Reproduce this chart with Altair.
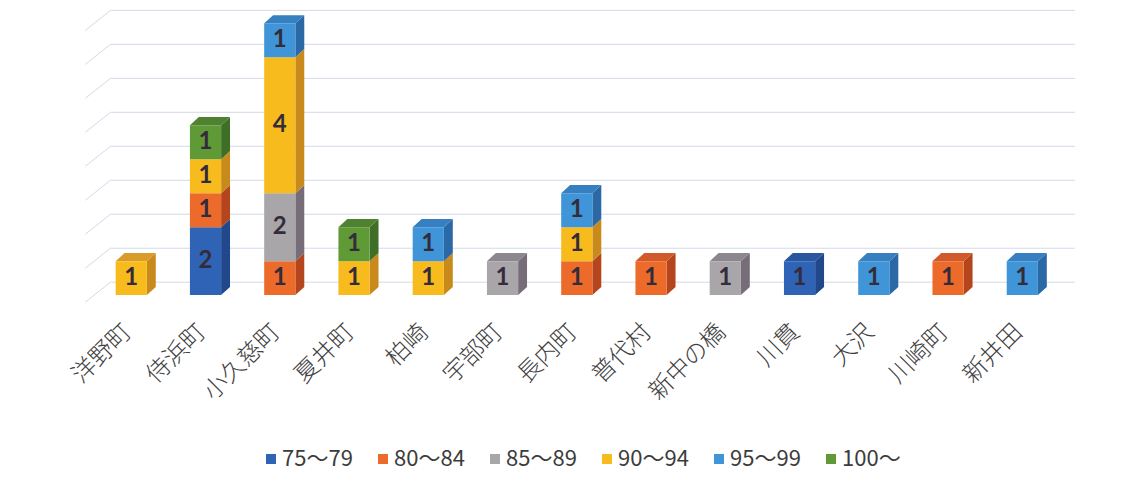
import json
import altair as alt
import pandas as pd

# ---- data ----
categories = ['洋野町', '侍浜町', '小久慈町', '夏井町', '柏崎', '宇部町', '長内町',
              '普代村', '新中の橋', '川貫', '大沢', '川崎町', '新井田']
series = ['75～79', '80～84', '85～89', '90～94', '95～99', '100～']
s75_79 = [0, 2, 0, 0, 0, 0, 0, 0, 0, 1, 0, 0, 0]
s80_84 = [0, 1, 1, 0, 0, 0, 1, 1, 0, 0, 0, 1, 0]
s85_89 = [0, 0, 2, 0, 0, 1, 0, 0, 1, 0, 0, 0, 0]
s90_94 = [1, 1, 4, 1, 1, 0, 1, 0, 0, 0, 0, 0, 0]
s95_99 = [0, 0, 1, 0, 1, 0, 1, 0, 0, 0, 1, 0, 1]
s100 = [0, 1, 0, 1, 0, 0, 0, 0, 0, 0, 0, 0, 0]
values = [s75_79, s80_84, s85_89, s90_94, s95_99, s100]
grid_levels = list(range(0, 9))

# ---- style ----
front_colors = ['#2f63b5', '#ec6b2a', '#a9a6aa', '#f8bb1e', '#3f95d7', '#5f9a37']
side_colors = ['#21488a', '#b5451d', '#776d79', '#c98a1c', '#2a68a6', '#3f6e27']
top_colors = ['#2a56a0', '#d2592a', '#8c8690', '#d99c2a', '#367fc0', '#4e8231']
BW = 0.42   # bar face width (x units)
DX = 0.12   # depth in x units
DY = 0.24   # depth in y units

# ---- build tables ----
front, side, top = [], [], []
seg = 0
for i, cat in enumerate(categories):
    base = 0
    last = None
    for s, name in enumerate(series):
        v = values[s][i]
        if v <= 0:
            continue
        y0, y1 = base, base + v
        front.append(dict(xl=i - BW / 2, xr=i + BW / 2, xc=i, y=y0, y2=y1,
                          ym=(y0 + y1) / 2, v=v, series=name))
        side.append(dict(x=i + BW / 2, y=y0, y2=y1, seg=seg, series=name))
        side.append(dict(x=i + BW / 2 + DX, y=y0 + DY, y2=y1 + DY, seg=seg, series=name))
        base = y1
        last = name
        seg += 1
    if last is not None:
        t = base
        for xx, a, b in [(i - BW / 2, t, t), (i - BW / 2 + DX, t, t + DY),
                         (i + BW / 2, t, t + DY), (i + BW / 2 + DX, t + DY, t + DY)]:
            top.append(dict(x=xx, y=a, y2=b, seg=i, series=last))

df_front = pd.DataFrame(front)
df_side = pd.DataFrame(side)
df_top = pd.DataFrame(top)
df_grid = pd.DataFrame(dict(level=grid_levels))

xs = alt.Scale(domain=[-0.65, 12.75], nice=False, zero=False)
ys = alt.Scale(domain=[-0.35, 8.45], nice=False, zero=False)

xaxis = alt.Axis(values=list(range(len(categories))),
                 labelExpr=json.dumps(categories, ensure_ascii=False) + '[datum.value]',
                 labelAngle=-45, labelAlign='right', labelBaseline='middle',
                 labelFont='Noto Sans CJK JP', labelFontSize=24, labelFontWeight=300,
                 labelColor='#404040',
                 labelPadding=21, labelOffset=-4, ticks=False, tickSize=0,
                 domain=False, grid=False, title=None, labelOverlap=False)

# grid on back wall
grid_h = alt.Chart(df_grid).transform_calculate(
    gy='datum.level + 0.38', gx1='-0.28', gx2='12.71'
).mark_rule(color='#d3d9e8', strokeWidth=1).encode(
    x=alt.X('gx1:Q', scale=xs, axis=xaxis),
    x2='gx2:Q',
    y=alt.Y('gy:Q', scale=ys, axis=None),
)
grid_d = alt.Chart(df_grid).transform_calculate(
    fy='datum.level - 0.21', by='datum.level + 0.38', fx='-0.62', bx='-0.28'
).mark_rule(color='#d3d9e8', strokeWidth=1).encode(
    x=alt.X('fx:Q', scale=xs, axis=xaxis),
    x2='bx:Q',
    y=alt.Y('fy:Q', scale=ys, axis=None),
    y2='by:Q',
)

side_l = alt.Chart(df_side).mark_area(opacity=1).encode(
    x=alt.X('x:Q', scale=xs, axis=xaxis),
    y=alt.Y('y:Q', scale=ys, axis=None, stack=None),
    y2='y2:Q',
    detail='seg:N',
    color=alt.Color('series:N', scale=alt.Scale(domain=series, range=side_colors), legend=None),
)
top_l = alt.Chart(df_top).mark_area(opacity=1).encode(
    x=alt.X('x:Q', scale=xs, axis=xaxis),
    y=alt.Y('y:Q', scale=ys, axis=None, stack=None),
    y2='y2:Q',
    detail='seg:N',
    color=alt.Color('series:N', scale=alt.Scale(domain=series, range=top_colors), legend=None),
)
front_l = alt.Chart(df_front).mark_rect().encode(
    x=alt.X('xl:Q', scale=xs, axis=xaxis),
    x2='xr:Q',
    y=alt.Y('y:Q', scale=ys, axis=None),
    y2='y2:Q',
    color=alt.Color('series:N', scale=alt.Scale(domain=series, range=front_colors),
                    sort=series,
                    legend=alt.Legend(title=None, orient='none', legendX=177, legendY=440,
                                      direction='horizontal', symbolType='square',
                                      symbolSize=100, symbolStrokeWidth=0,
                                      labelFont='Noto Sans CJK JP', labelFontSize=22,
                                      labelColor='#3c3c3c', labelOffset=0,
                                      columnPadding=19, gridAlign='all', padding=0)),
)
text_l = alt.Chart(df_front).mark_text(font='Lato', fontWeight='bold', fontSize=24,
                                       color='#342c3a', baseline='middle').encode(
    x=alt.X('xc:Q', scale=xs, axis=xaxis),
    y=alt.Y('ym:Q', scale=ys, axis=None),
    text='v:Q',
)

chart = alt.layer(grid_h, grid_d, side_l, top_l, front_l, text_l).resolve_scale(
    color='independent'
).properties(
    width=995, height=299,
    autosize=alt.AutoSizeParams(type='none'),
    padding={'left': 75, 'top': 0, 'right': 50, 'bottom': 185},
    background='white',
).configure_view(stroke=None)

chart.save('out.html', embed_options={'renderer': 'svg', 'actions': False})
